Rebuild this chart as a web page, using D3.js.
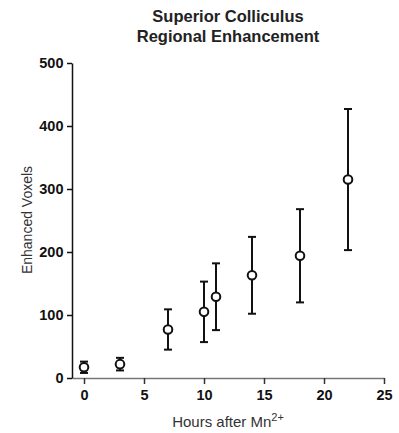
<!DOCTYPE html>
<html>
<head>
<meta charset="utf-8">
<script src="https://cdn.jsdelivr.net/npm/d3@7"></script>
<style>
  body { margin: 0; background: #fff; }
  text { font-family: "Liberation Sans", Arial, sans-serif; }
</style>
</head>
<body>
<div class="chart"></div>
<script>
// hours after injection, mean enhanced voxels, error (+/-)
const hours = [0, 3, 7, 10, 11, 14, 18, 22];
const means = [17, 22, 77, 105, 129, 163, 194, 315];
const errs  = [9, 10, 32, 48, 53, 61, 74, 112];
const xTicks = [0, 5, 10, 15, 20, 25];
const yTicks = [0, 100, 200, 300, 400, 500];

const W = 399, H = 433;
const margin = {top: 63, right: 15, bottom: 55, left: 72};

const svg = d3.select(".chart").append("svg")
    .attr("width", W)
    .attr("height", H);

const xScale = d3.scaleLinear()
    .domain([-1, 25])
    .range([margin.left, 384]);

const yScale = d3.scaleLinear()
    .domain([0, 500])
    .range([378, margin.top]);

// title
svg.append("text")
    .attr("x", 228).attr("y", 21.5)
    .attr("text-anchor", "middle")
    .attr("font-size", 16.5).attr("font-weight", "bold")
    .attr("fill", "#222")
    .text("Superior Colliculus");
svg.append("text")
    .attr("x", 228).attr("y", 42)
    .attr("text-anchor", "middle")
    .attr("font-size", 16.5).attr("font-weight", "bold")
    .attr("fill", "#222")
    .text("Regional Enhancement");

// x axis
const xAxis = svg.append("g")
    .attr("transform", "translate(0,378)")
    .call(d3.axisBottom(xScale).tickValues(xTicks).tickSize(6).tickSizeOuter(0).tickPadding(6));
xAxis.select(".domain").attr("stroke", "#777").attr("stroke-width", 1.5);
xAxis.selectAll(".tick line").attr("stroke", "#333").attr("stroke-width", 1.5);
xAxis.selectAll("text")
    .attr("font-size", 14.5).attr("font-weight", "bold")
    .attr("fill", "#111")
    .style("font-family", "'Liberation Sans', Arial, sans-serif");

// y axis
const yAxis = svg.append("g")
    .attr("transform", `translate(${margin.left},0)`)
    .call(d3.axisLeft(yScale).tickValues(yTicks).tickSize(5).tickSizeOuter(0).tickPadding(3.5));
yAxis.select(".domain").attr("stroke", "#111").attr("stroke-width", 1.5);
yAxis.selectAll(".tick line").attr("stroke", "#111").attr("stroke-width", 1.5);
yAxis.selectAll("text")
    .attr("font-size", 14.5).attr("font-weight", "bold")
    .attr("fill", "#111")
    .style("font-family", "'Liberation Sans', Arial, sans-serif");

// axis labels
svg.append("text")
    .attr("transform", "translate(32,220) rotate(-90)")
    .attr("text-anchor", "middle")
    .attr("font-size", 14).attr("fill", "#333")
    .text("Enhanced Voxels");

const xl = svg.append("text")
    .attr("x", 228).attr("y", 427)
    .attr("text-anchor", "middle")
    .attr("font-size", 15).attr("fill", "#333");
xl.append("tspan").text("Hours after Mn");
xl.append("tspan").attr("dy", -6).attr("font-size", 11).text("2+");

// error bars and points
const data = hours.map((h, i) => ({h: h, m: means[i], e: errs[i]}));
const cap = 4;

const g = svg.append("g");
const pts = g.selectAll(".pt").data(data).enter().append("g").attr("class", "pt");

pts.append("line")
    .attr("x1", d => xScale(d.h)).attr("x2", d => xScale(d.h))
    .attr("y1", d => yScale(d.m + d.e)).attr("y2", d => yScale(d.m - d.e))
    .attr("stroke", "#111").attr("stroke-width", 2);
pts.append("line")
    .attr("x1", d => xScale(d.h) - cap).attr("x2", d => xScale(d.h) + cap)
    .attr("y1", d => yScale(d.m + d.e)).attr("y2", d => yScale(d.m + d.e))
    .attr("stroke", "#111").attr("stroke-width", 2);
pts.append("line")
    .attr("x1", d => xScale(d.h) - cap).attr("x2", d => xScale(d.h) + cap)
    .attr("y1", d => yScale(d.m - d.e)).attr("y2", d => yScale(d.m - d.e))
    .attr("stroke", "#111").attr("stroke-width", 2);
pts.append("circle")
    .attr("cx", d => xScale(d.h))
    .attr("cy", d => yScale(d.m))
    .attr("r", 4.3)
    .attr("fill", "#fff")
    .attr("stroke", "#111").attr("stroke-width", 2);
</script>
</body>
</html>
